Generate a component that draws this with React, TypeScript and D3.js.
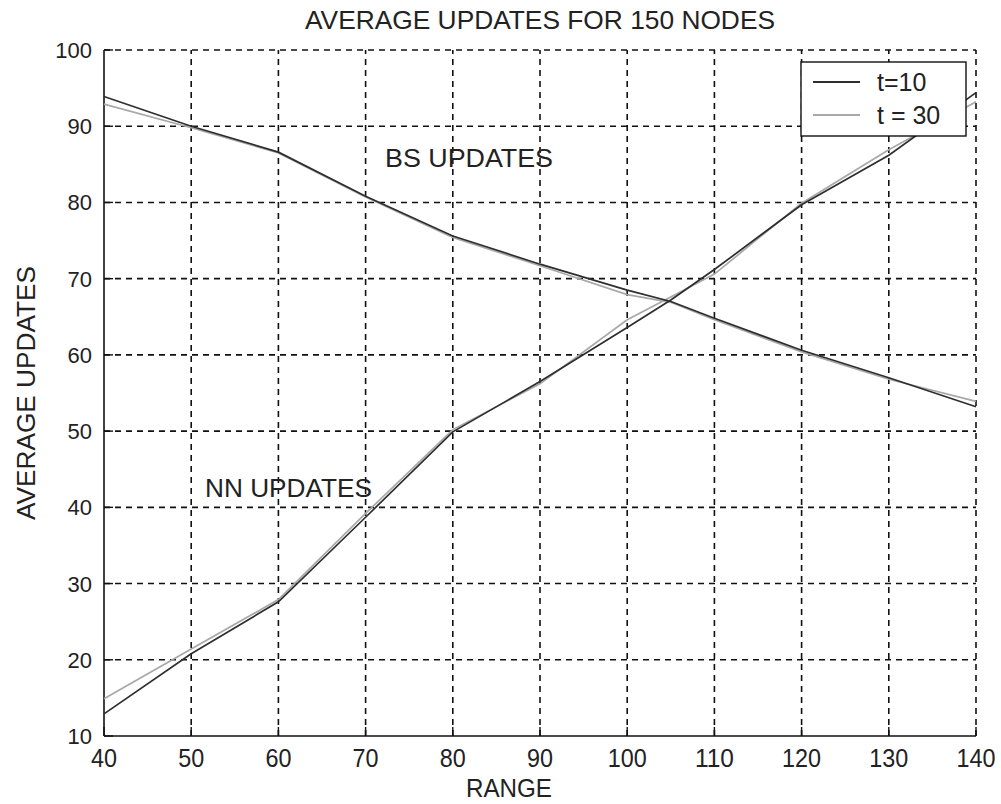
import React from 'react';
import * as d3 from 'd3';

// x positions (range) and read-off values
const range = [40, 50, 60, 70, 80, 90, 100, 105, 110, 120, 130, 140];
const bsT10 = [93.9, 90.0, 86.6, 80.8, 75.6, 71.9, 68.5, 67.0, 64.8, 60.6, 57.0, 53.2];
const bsT30 = [92.9, 89.8, 86.5, 80.7, 75.4, 71.7, 67.9, 66.9, 64.6, 60.4, 56.8, 53.9];
const nnT10 = [12.9, 20.8, 27.6, 38.7, 49.9, 56.5, 63.6, 67.2, 71.2, 79.7, 86.2, 94.4];
const nnT30 = [14.9, 21.4, 27.9, 39.2, 50.2, 56.2, 64.6, 67.6, 70.6, 79.9, 86.9, 93.2];

const xTicks = [40, 50, 60, 70, 80, 90, 100, 110, 120, 130, 140];
const yTicks = [10, 20, 30, 40, 50, 60, 70, 80, 90, 100];

const legendLabels = ['t=10', 't = 30'];
const seriesColors = ['#2e2e2e', '#a8a8a8'];

const W = 1001;
const H = 804;
const FONT = '"Liberation Sans", Arial, sans-serif';

export default function App() {
  const x = d3.scaleLinear().domain([40, 140]).range([104, 976]);
  const y = d3.scaleLinear().domain([10, 100]).range([736, 50]);

  const line = d3
    .line<number>()
    .x((d, i) => x(range[i]))
    .y((d) => y(d));

  const series = [
    { vals: bsT30, color: seriesColors[1] },
    { vals: nnT30, color: seriesColors[1] },
    { vals: bsT10, color: seriesColors[0] },
    { vals: nnT10, color: seriesColors[0] },
  ];

  const [x0, x1] = x.range();
  const [y0, y1] = y.range();

  return (
    <svg
      width={W}
      height={H}
      style={{ position: 'absolute', left: 0, top: 0, background: '#fff' }}
      fontFamily={FONT}
    >
      <rect width={W} height={H} fill="#fff" />

      {/* grid */}
      {xTicks.slice(1).map((t) => (
        <line
          key={'gx' + t}
          x1={x(t)}
          x2={x(t)}
          y1={y0}
          y2={y1}
          stroke="#111"
          strokeWidth={1.6}
          strokeDasharray="6,5"
        />
      ))}
      {yTicks.slice(1).map((t) => (
        <line
          key={'gy' + t}
          x1={x0}
          x2={x1}
          y1={y(t)}
          y2={y(t)}
          stroke="#111"
          strokeWidth={1.6}
          strokeDasharray="6,5"
        />
      ))}

      {/* solid axes */}
      <line x1={x0} x2={x0} y1={y0} y2={y1} stroke="#111" strokeWidth={1.6} />
      <line x1={x0} x2={x1} y1={y0} y2={y0} stroke="#111" strokeWidth={1.6} />

      {/* tick marks */}
      {xTicks.map((t) => (
        <line key={'tx' + t} x1={x(t)} x2={x(t)} y1={y0} y2={y0 - 9} stroke="#111" strokeWidth={1.4} />
      ))}
      {yTicks.map((t) => (
        <line key={'ty' + t} x1={x0} x2={x0 + 9} y1={y(t)} y2={y(t)} stroke="#111" strokeWidth={1.4} />
      ))}

      {/* tick labels */}
      {xTicks.map((t) => (
        <text
          key={'lx' + t}
          x={x(t)}
          y={767}
          textAnchor="middle"
          fontSize={25}
          fill="#222"
          textLength={String(t).length * 13}
          lengthAdjust="spacingAndGlyphs"
        >
          {t}
        </text>
      ))}
      {yTicks.map((t) => (
        <text key={'ly' + t} x={92} y={y(t) + 8} textAnchor="end" fontSize={22} fill="#222">
          {t}
        </text>
      ))}

      {/* data lines */}
      {series.map((s, i) => (
        <path key={'s' + i} d={line(s.vals) || ''} fill="none" stroke={s.color} strokeWidth={1.7} />
      ))}

      {/* annotations */}
      <text x={385} y={167} fontSize={26} fill="#222" textLength={168} lengthAdjust="spacingAndGlyphs">
        BS UPDATES
      </text>
      <text x={205} y={497} fontSize={26} fill="#222" textLength={167} lengthAdjust="spacingAndGlyphs">
        NN UPDATES
      </text>

      {/* legend */}
      <rect x={801} y={62} width={165} height={74} fill="#fff" stroke="#111" strokeWidth={1.4} />
      {legendLabels.map((lab, i) => (
        <g key={'lg' + i}>
          <line
            x1={813}
            x2={860}
            y1={82 + i * 33}
            y2={82 + i * 33}
            stroke={seriesColors[i]}
            strokeWidth={1.8}
          />
          <text x={877} y={91 + i * 33} fontSize={25} fill="#222">
            {lab}
          </text>
        </g>
      ))}

      {/* titles */}
      <text x={540} y={29} textAnchor="middle" fontSize={25} fill="#222" textLength={470} lengthAdjust="spacingAndGlyphs">
        AVERAGE UPDATES FOR 150 NODES
      </text>
      <text x={509} y={797} textAnchor="middle" fontSize={25} fill="#222" textLength={86} lengthAdjust="spacingAndGlyphs">
        RANGE
      </text>
      <text
        transform="translate(35,393) rotate(-90)"
        textAnchor="middle"
        fontSize={26}
        fill="#222"
        textLength={254}
        lengthAdjust="spacingAndGlyphs"
      >
        AVERAGE UPDATES
      </text>
    </svg>
  );
}
